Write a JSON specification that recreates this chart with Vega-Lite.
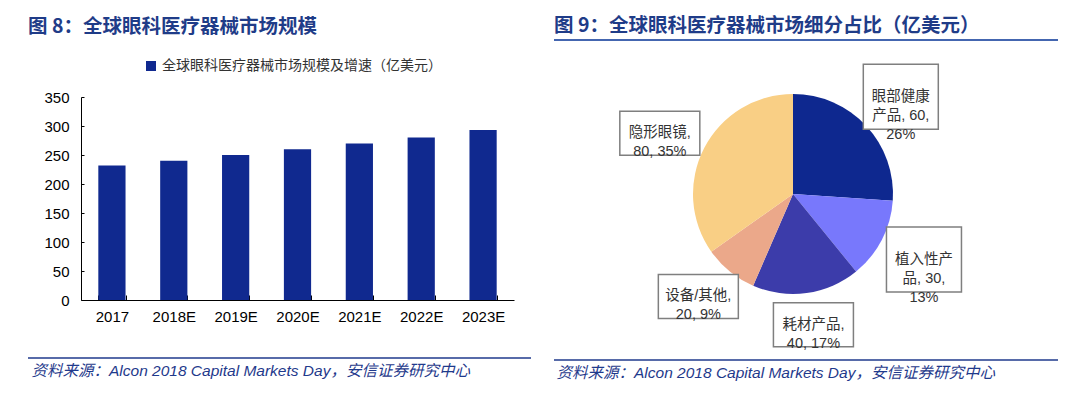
{
  "$schema": "https://vega.github.io/schema/vega-lite/v6.json",
  "background": "white",
  "padding": {"left": 27, "top": 12, "right": 0, "bottom": 0},
  "config": {"view": {"stroke": null}, "font": "Liberation Sans, Noto Sans CJK SC"},
  "spacing": 21,
  "resolve": {"scale": {"color": "independent"}, "legend": {"color": "independent"}},
  "hconcat": [
    {
      "resolve": {"scale": {"color": "independent"}, "legend": {"color": "independent"}},
      "concat": [
        {
          "width": 450, "height": 37,
          "data": {"values": [{"t": "图 8：全球眼科医疗器械市场规模"}]},
          "mark": {"type": "text", "align": "left", "baseline": "middle", "fontSize": 19.5, "fontWeight": "bold", "font": "Noto Sans CJK SC", "color": "#1F3C88"},
          "encoding": {
            "x": {"datum": -0.1178, "type": "quantitative", "scale": {"domain": [0, 1]}, "axis": null},
            "y": {"datum": 0.6, "type": "quantitative", "scale": {"domain": [0, 1]}, "axis": null},
            "text": {"field": "t"}
          }
        },
        {
          "width": 433, "height": 203,
          "data": {"values": [
            {"year": "2017", "size": 232},
            {"year": "2018E", "size": 240},
            {"year": "2019E", "size": 250},
            {"year": "2020E", "size": 260},
            {"year": "2021E", "size": 270},
            {"year": "2022E", "size": 280},
            {"year": "2023E", "size": 293}
          ]},
          "mark": {"type": "bar"},
          "encoding": {
            "x": {"field": "year", "type": "nominal", "sort": null,
                  "scale": {"paddingInner": 0.56, "paddingOuter": 0.28},
                  "axis": {"title": null, "labelAngle": 0, "labelFontSize": 15, "labelColor": "#000", "domainColor": "#000", "tickColor": "#000", "tickSize": -5, "tickBand": "extent", "labelPadding": 14, "minExtent": 47}},
            "y": {"field": "size", "type": "quantitative", "scale": {"domain": [0, 350]},
                  "axis": {"title": null, "values": [0, 50, 100, 150, 200, 250, 300, 350], "grid": false, "domainColor": "#000", "tickColor": "#000", "tickSize": -3, "labelPadding": 15, "labelFontSize": 15, "labelColor": "#000", "minExtent": 53}},
            "color": {"datum": "全球眼科医疗器械市场规模及增速（亿美元）", "type": "nominal",
                      "scale": {"range": ["#10298F"]},
                      "legend": {"title": null, "orient": "none", "legendX": 63, "legendY": -38, "symbolType": "square", "symbolSize": 100, "labelFontSize": 14, "labelLimit": 0, "labelColor": "#333333", "labelFont": "Noto Sans CJK SC"}}
          }
        },
        {
          "width": 450, "height": 25,
          "data": {"values": [{"t": "资料来源：Alcon 2018 Capital Markets Day，安信证券研究中心"}]},
          "layer": [
            {"mark": {"type": "rule", "color": "#1F3A8C", "strokeWidth": 1.5},
             "encoding": {
               "x": {"datum": -0.1178, "type": "quantitative", "scale": {"domain": [0, 1]}, "axis": null},
               "x2": {"datum": 1},
               "y": {"datum": 1, "type": "quantitative", "scale": {"domain": [0, 1]}, "axis": null}
             }},
            {"mark": {"type": "text", "align": "left", "baseline": "middle", "fontStyle": "italic", "fontSize": 15.5, "color": "#1F3A8C"},
             "encoding": {
               "x": {"datum": -0.11, "type": "quantitative", "scale": {"domain": [0, 1]}, "axis": null},
               "y": {"datum": 0.5, "type": "quantitative", "scale": {"domain": [0, 1]}, "axis": null},
               "text": {"field": "t"}
             }}
          ]
        }
      ],
      "columns": 1,
      "spacing": 10
    },
    {
      "concat": [
        {
          "width": 504, "height": 28,
          "data": {"values": [{"t": "图 9：全球眼科医疗器械市场细分占比（亿美元）"}]},
          "layer": [
            {"mark": {"type": "rule", "color": "#4466B0", "strokeWidth": 2},
             "encoding": {"y": {"datum": 0, "type": "quantitative", "scale": {"domain": [0, 1]}, "axis": null}}},
            {"mark": {"type": "text", "align": "left", "baseline": "middle", "fontSize": 19.5, "fontWeight": "bold", "font": "Noto Sans CJK SC", "color": "#1F3C88"},
             "encoding": {
               "x": {"datum": 0, "type": "quantitative", "scale": {"domain": [0, 1]}, "axis": null},
               "y": {"datum": 0.5, "type": "quantitative", "scale": {"domain": [0, 1]}, "axis": null},
               "text": {"field": "t"}
             }}
          ]
        },
        {
          "width": 478, "height": 290,
          "data": {"values": [
            {"cat": "眼部健康产品", "value": 60, "rank": 1, "label": ["眼部健康", "产品, 60,", "26%"]},
            {"cat": "植入性产品", "value": 30, "rank": 2, "label": ["植入性产", "品, 30,", "13%"]},
            {"cat": "耗材产品", "value": 40, "rank": 3, "label": ["耗材产品,", "40, 17%"]},
            {"cat": "设备/其他", "value": 20, "rank": 4, "label": ["设备/其他,", "20, 9%"]},
            {"cat": "隐形眼镜", "value": 80, "rank": 5, "label": ["隐形眼镜,", "80, 35%"]}
          ]},
          "transform": [
            {"window": [{"op": "sum", "field": "value", "as": "cum"}], "sort": [{"field": "rank"}]},
            {"joinaggregate": [{"op": "sum", "field": "value", "as": "total"}]},
            {"calculate": "2*PI*(datum.cum - datum.value/2)/datum.total", "as": "mid"},
            {"calculate": "length(datum.label)", "as": "nl"},
            {"calculate": "(1.1 + (datum.nl == 3 ? 0.375 : 0.4)) * sin(datum.mid)", "as": "lx"},
            {"calculate": "(1.1 + (datum.nl == 3 ? 0.325 : 0.22)) * cos(datum.mid)", "as": "ly"}
          ],
          "layer": [
            {"mark": {"type": "arc", "outerRadius": 100},
             "encoding": {
               "theta": {"field": "value", "type": "quantitative", "stack": true},
               "order": {"field": "rank"},
               "color": {"field": "cat", "type": "nominal",
                         "scale": {"domain": ["眼部健康产品", "植入性产品", "耗材产品", "设备/其他", "隐形眼镜"],
                                   "range": ["#0E288F", "#7878FC", "#3C3CAA", "#EBA88A", "#F9CF85"]},
                         "legend": null}
             }},
            {"transform": [{"filter": "datum.nl == 3"}],
             "mark": {"type": "point", "shape": "M-1,-0.867H1V0.867H-1Z", "size": 5625, "filled": true, "fill": "white", "stroke": "#7F7F7F", "strokeWidth": 1.5, "opacity": 1},
             "encoding": {
               "x": {"field": "lx", "type": "quantitative", "scale": {"domain": [-2.39, 2.39]}, "axis": null},
               "y": {"field": "ly", "type": "quantitative", "scale": {"domain": [-1.45, 1.45]}, "axis": null}
             }},
            {"transform": [{"filter": "datum.nl == 2"}],
             "mark": {"type": "point", "shape": "M-1,-0.55H1V0.55H-1Z", "size": 6400, "filled": true, "fill": "white", "stroke": "#7F7F7F", "strokeWidth": 1.5, "opacity": 1},
             "encoding": {
               "x": {"field": "lx", "type": "quantitative", "scale": {"domain": [-2.39, 2.39]}, "axis": null},
               "y": {"field": "ly", "type": "quantitative", "scale": {"domain": [-1.45, 1.45]}, "axis": null}
             }},
            {"mark": {"type": "text", "align": "center", "baseline": "middle", "fontSize": 14.5, "lineHeight": 19, "color": "#333333"},
             "encoding": {
               "x": {"field": "lx", "type": "quantitative", "scale": {"domain": [-2.39, 2.39]}, "axis": null},
               "y": {"field": "ly", "type": "quantitative", "scale": {"domain": [-1.45, 1.45]}, "axis": null},
               "text": {"field": "label"}
             }}
          ]
        },
        {
          "width": 504, "height": 25,
          "data": {"values": [{"t": "资料来源：Alcon 2018 Capital Markets Day，安信证券研究中心"}]},
          "layer": [
            {"mark": {"type": "rule", "color": "#1F3A8C", "strokeWidth": 1.5},
             "encoding": {"y": {"datum": 1, "type": "quantitative", "scale": {"domain": [0, 1]}, "axis": null}}},
            {"mark": {"type": "text", "align": "left", "baseline": "middle", "fontStyle": "italic", "fontSize": 15.5, "color": "#1F3A8C"},
             "encoding": {
               "x": {"datum": 0.005, "type": "quantitative", "scale": {"domain": [0, 1]}, "axis": null},
               "y": {"datum": 0.5, "type": "quantitative", "scale": {"domain": [0, 1]}, "axis": null},
               "text": {"field": "t"}
             }}
          ]
        }
      ],
      "columns": 1,
      "spacing": 8
    }
  ]
}
